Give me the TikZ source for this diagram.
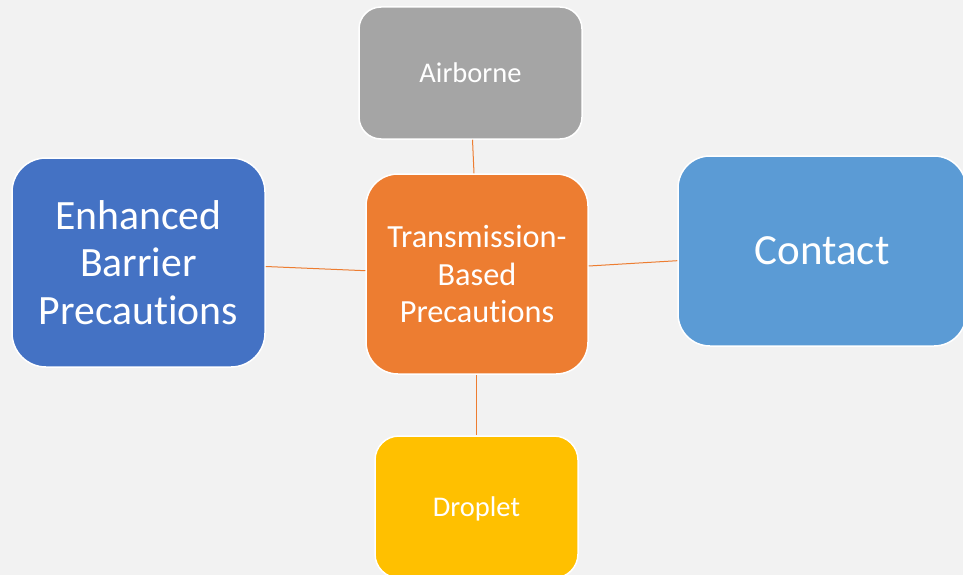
\documentclass[tikz,border=0pt]{standalone}
\usepackage{fontspec}
\setmainfont{Carlito}[Ligatures={NoCommon}]
\definecolor{bgcol}{HTML}{F2F2F2}
\definecolor{graycol}{HTML}{A5A5A5}
\definecolor{orangecol}{HTML}{ED7D31}
\definecolor{bluecol}{HTML}{4472C4}
\definecolor{lightbluecol}{HTML}{5B9BD5}
\definecolor{goldcol}{HTML}{FFC000}
\tikzset{
  box/.style={draw=white, line width=1.5pt, text=white, align=center,
    inner sep=0pt, text depth=0pt},
  link/.style={draw=orangecol, line width=1pt}
}
\begin{document}
\begin{tikzpicture}[x=1pt, y=-1pt]
  \fill[bgcol] (0,0) rectangle (963,575);
  \useasboundingbox (0,0) rectangle (963,575);

  \node[box, fill=graycol, rounded corners=22pt,
    minimum width=223pt, minimum height=132pt,
    font=\fontsize{28.5}{34}\selectfont] (air) at (470.5,73) {Airborne};

  \node[box, fill=orangecol, rounded corners=32pt,
    minimum width=222pt, minimum height=200pt,
    font=\fontsize{32.3}{37.5}\selectfont] (tbp) at (477,274)
    {Transmission-\\Based\\Precautions};

  \node[box, fill=bluecol, rounded corners=34pt,
    minimum width=253pt, minimum height=209pt,
    font=\fontsize{41.7}{47.5}\selectfont] (ebp) at (138.5,262.5)
    {Enhanced\\Barrier\\Precautions};

  \node[box, fill=lightbluecol, rounded corners=32pt,
    minimum width=288pt, minimum height=190pt,
    font=\fontsize{43}{50}\selectfont] (con) at (822,251) {Contact};

  \node[box, fill=goldcol, rounded corners=24pt,
    minimum width=203pt, minimum height=142pt,
    font=\fontsize{28.5}{34}\selectfont] (drop) at (476.5,507) {Droplet};

  \draw[link] ([xshift=2pt]air.south) -- ([xshift=-3pt]tbp.north);
  \draw[link] ([yshift=-4pt]ebp.east) -- ([yshift=3.3pt]tbp.west);
  \draw[link] ([yshift=8pt]tbp.east) -- ([yshift=-9.7pt]con.west);
  \draw[link] ([xshift=-0.5pt]tbp.south) -- (drop.north);
\end{tikzpicture}
\end{document}
